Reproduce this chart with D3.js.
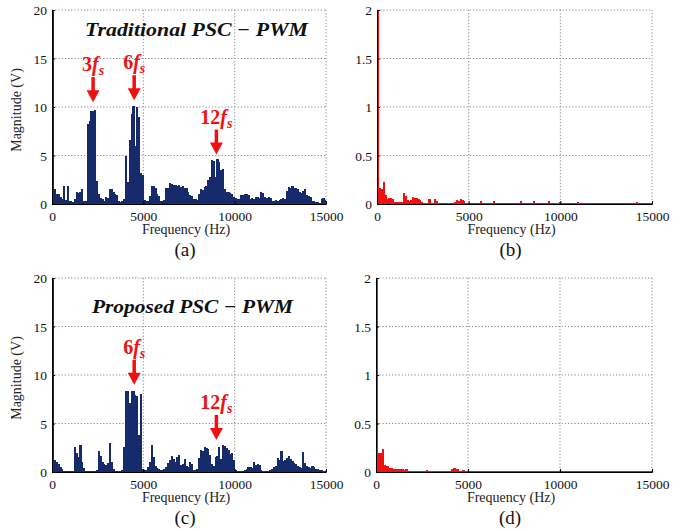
<!DOCTYPE html>
<html lang="en">
  <head>
    <meta charset="UTF-8" />
    <title>PSC-PWM spectra</title>
    <script src="https://d3js.org/d3.v7.min.js"></script>
    <style>
      body { margin: 0; background: #fff; }
      svg { display: block; }
      text { font-family: "Liberation Serif", "DejaVu Serif", serif; }
    </style>
  </head>
  <body>
    <svg id="chart" width="684" height="531"></svg>
    <script>
      // 100 Hz bins, 0 .. 15000 Hz
      const binWidth = 100;
      const xTicks = [0, 5000, 10000, 15000];
      const vTicks = [0, 5, 10, 15, 20];
      const aTicks = [0, 0.5, 1, 1.5, 2];

      // (a) line voltage, traditional PSC-PWM
      const voltTrad = [
        20, 1.5, 1.0, 1.0, 0.7, 0.5, 1.9, 0.4, 1.9, 0.3,
        0.35, 0.2, 0.5, 1.2, 1.1, 1.2, 1.5, 0.3, 0.3, 8.2,
        8.6, 9.6, 9.6, 9.7, 2.4, 1.0, 0.6, 0.5, 0.3, 0.7,
        0.6, 1.5, 1.5, 1.2, 1.0, 0.9, 0.3, 0.2, 0.3, 0.5,
        5.0, 2.3, 6.6, 9.3, 10.1, 6.0, 10.0, 9.0, 3.2, 3.0,
        0.4, 0.3, 0.3, 0.8, 1.9, 1.9, 1.7, 1.0, 0.8, 0.3,
        0.3, 0.4, 1.7, 1.6, 2.2, 2.1, 2.0, 2.0, 1.9, 2.0,
        1.8, 1.9, 1.7, 1.6, 1.2, 0.9, 0.8, 0.5, 0.5, 0.4,
        1.0, 1.5, 1.4, 1.8, 1.9, 2.5, 2.8, 4.5, 4.4, 2.8,
        4.6, 4.3, 3.5, 3.6, 1.5, 1.2, 1.2, 1.1, 1.0, 0.7,
        0.6, 0.5, 0.5, 0.9, 0.9, 1.0, 1.0, 0.9, 0.5, 0.6,
        0.5, 0.7, 0.7, 0.6, 1.2, 1.1, 0.7, 0.6, 0.7, 0.6,
        0.3, 0.3, 0.4, 0.3, 0.4, 0.5, 0.6, 0.5, 1.3, 1.8,
        1.7, 1.9, 1.6, 1.7, 1.5, 1.2, 1.1, 1.3, 1.5, 0.9,
        0.8, 0.7, 0.3, 0.3, 0.2, 0.2, 0.1, 0.5, 0.6, 0.4
      ];

      // (b) current, traditional
      const currTrad = [
        2.0, 0.16, 0.15, 0.23, 0.09, 0.05, 0.06, 0.06, 0.05, 0.02,
        0.02, 0.02, 0.02, 0.02, 0.11, 0.08, 0.04, 0.03, 0.04, 0.07,
        0.06, 0.06, 0.05, 0.04, 0.02, 0.01, 0.01, 0.01, 0.05, 0.01,
        0.01, 0.05, 0.03, 0.01, 0.01, 0.01, 0.01, 0.01, 0.01, 0.01,
        0.01, 0.01, 0.02, 0.04, 0.03, 0.05, 0.04, 0.03, 0.01, 0.01,
        0.01, 0.01, 0.01, 0.01, 0.01, 0.01, 0.03, 0.01, 0.01, 0.01,
        0.01, 0.01, 0.01, 0.03, 0.01, 0.01, 0.01, 0.01, 0.01, 0.01,
        0.01, 0.01, 0.01, 0.01, 0.01, 0.01, 0.01, 0.01, 0.03, 0.01,
        0.01, 0.01, 0.01, 0.01, 0.01, 0.03, 0.01, 0.01, 0.01, 0.01,
        0.01, 0.01, 0.01, 0.03, 0.01, 0.01, 0.01, 0.01, 0.01, 0.02,
        0.01, 0.01, 0.01, 0.01, 0.01, 0.01, 0.01, 0.01, 0.01, 0.02,
        0.01, 0.01, 0.01, 0.01, 0.01, 0.01, 0.01, 0.01, 0.01, 0.01,
        0.01, 0.01, 0.01, 0.01, 0.01, 0.015, 0.01, 0.01, 0.01, 0.01,
        0.01, 0.01, 0.01, 0.01, 0.01, 0.01, 0.01, 0.01, 0.01, 0.01,
        0.01, 0.02, 0.015, 0.01, 0.01, 0.01, 0.01, 0.01, 0.01, 0.01
      ];

      // (c) line voltage, proposed PSC-PWM
      const voltProp = [
        20, 1.2, 1.0, 0.8, 0.5, 0.3, 0.1, 0.1, 0.1, 0.1,
        0.1, 0.1, 2.6, 2.0, 1.5, 2.8, 1.0, 0.4, 0.1, 0.1,
        0.1, 0.1, 0.1, 0.1, 0.2, 2.2, 1.6, 1.0, 0.8, 0.7,
        0.9, 3.0, 1.0, 0.3, 0.1, 0.1, 0.1, 0.1, 0.2, 2.6,
        8.4, 8.4, 7.1, 8.4, 8.3, 7.9, 7.8, 3.8, 8.0, 0.3,
        0.2, 0.2, 0.5, 1.0, 2.8, 1.5, 0.6, 0.4, 0.3, 0.2,
        0.2, 0.3, 0.5, 0.9, 1.2, 1.7, 1.3, 1.0, 1.5, 1.8,
        0.7, 0.8, 1.3, 0.6, 0.5, 1.0, 0.8, 0.2, 0.2, 0.3,
        1.4, 2.3, 2.2, 2.6, 2.5, 2.4, 1.8, 0.8, 0.6, 1.5,
        1.6, 2.6, 1.3, 2.8, 2.7, 2.5, 2.3, 1.9, 2.0, 1.2,
        0.2, 0.1, 0.1, 0.1, 0.1, 0.2, 0.3, 0.5, 0.5, 0.4,
        1.0, 0.7, 0.8, 0.7, 0.2, 0.1, 0.1, 0.1, 0.1, 0.2,
        0.3, 0.5, 0.6, 1.4, 1.2, 2.2, 1.1, 1.2, 1.4, 1.6,
        1.3, 1.1, 0.9, 0.8, 0.6, 0.5, 0.4, 2.1, 0.9, 0.6,
        0.5, 0.4, 0.6, 0.5, 0.3, 0.3, 0.2, 0.2, 0.1, 0.1
      ];

      // (d) current, proposed
      const currProp = [
        2.0, 0.2, 0.2, 0.24, 0.07, 0.06, 0.06, 0.04, 0.04, 0.03,
        0.03, 0.03, 0.03, 0.03, 0.03, 0.02, 0.03, 0.01, 0.01, 0.01,
        0.01, 0.01, 0.01, 0.01, 0.01, 0.01, 0.01, 0.02, 0.01, 0.01,
        0.008, 0.008, 0.008, 0.008, 0.008, 0.008, 0.008, 0.008, 0.008, 0.008,
        0.01, 0.03, 0.04, 0.035, 0.03, 0.01, 0.01, 0.02, 0.01, 0.01,
        0.008, 0.008, 0.008, 0.008, 0.008, 0.015, 0.008, 0.008, 0.008, 0.008,
        0.008, 0.008, 0.008, 0.008, 0.008, 0.008, 0.008, 0.008, 0.008, 0.008,
        0.008, 0.008, 0.008, 0.008, 0.008, 0.008, 0.008, 0.008, 0.008, 0.008,
        0.008, 0.008, 0.012, 0.008, 0.008, 0.008, 0.012, 0.008, 0.008, 0.008,
        0.008, 0.008, 0.008, 0.008, 0.008, 0.008, 0.008, 0.008, 0.008, 0.008,
        0.008, 0.008, 0.008, 0.008, 0.008, 0.008, 0.008, 0.008, 0.008, 0.008,
        0.008, 0.008, 0.008, 0.008, 0.008, 0.008, 0.008, 0.008, 0.008, 0.008,
        0.008, 0.008, 0.008, 0.008, 0.008, 0.008, 0.008, 0.008, 0.008, 0.008,
        0.008, 0.008, 0.008, 0.008, 0.008, 0.008, 0.008, 0.008, 0.008, 0.008,
        0.008, 0.008, 0.008, 0.008, 0.008, 0.008, 0.008, 0.008, 0.008, 0.008
      ];

      // harmonic markers: [number, frequency (Hz), arrow tip value]
      const marksTrad = [["3", 2250, 10.5], ["6", 4500, 10.7], ["12", 9000, 5.1]];
      const marksProp = [["6", 4500, 9.0], ["12", 9000, 3.3]];

      const navy = "#152b6c";
      const red = "#f01010";

      const svg = d3.select("#chart");
      svg.append("rect").attr("width", 684).attr("height", 531).attr("fill", "#fff");

      function drawPanel(p) {
        const x = d3.scaleLinear().domain([0, 15000]).range([p.x0, p.x1]);
        const y = d3.scaleLinear().domain([0, p.yMax]).range([p.y1, p.y0]);
        const g = svg.append("g");

        // dotted grid
        g.selectAll(".gy")
          .data(p.yTicks.slice(1))
          .join("line")
          .attr("x1", p.x0).attr("x2", p.x1)
          .attr("y1", (d) => y(d)).attr("y2", (d) => y(d))
          .attr("stroke", "#8a8a8a").attr("stroke-dasharray", "1.2,2");
        g.selectAll(".gx")
          .data(xTicks.slice(1))
          .join("line")
          .attr("x1", (d) => x(d)).attr("x2", (d) => x(d))
          .attr("y1", p.y0).attr("y2", p.y1)
          .attr("stroke", "#8a8a8a").attr("stroke-dasharray", "1.2,2");

        // bars
        const w = x(binWidth) - x(0);
        g.selectAll(".bar")
          .data(p.data)
          .join("rect")
          .attr("x", (d, i) => x(i * binWidth))
          .attr("width", w + 0.4)
          .attr("y", (d) => y(Math.min(d, p.yMax)))
          .attr("height", (d) => y(0) - y(Math.min(d, p.yMax)))
          .attr("shape-rendering", "crispEdges")
          .attr("fill", p.color);

        // axes
        const ax = g.append("g")
          .attr("transform", `translate(0,${p.y1})`)
          .call(d3.axisBottom(x).tickValues(xTicks).tickSize(-3).tickPadding(7).tickFormat(d3.format("d")));
        const ay = g.append("g")
          .attr("transform", `translate(${p.x0},0)`)
          .call(d3.axisLeft(y).tickValues(p.yTicks).tickSize(-3).tickPadding(5).tickFormat(p.fmt));
        [ax, ay].forEach((a) => {
          a.attr("font-family", null);
          a.select(".domain").attr("stroke", "#000");
          a.selectAll("text").attr("font-size", 13.5).attr("fill", "#111");
        });
        ay.selectAll("text").attr("dy", "0.35em");

        g.append("text")
          .attr("x", (p.x0 + p.x1) / 2 - 3)
          .attr("y", p.y1 + 30)
          .attr("text-anchor", "middle")
          .attr("font-size", 14)
          .attr("fill", "#222")
          .text("Frequency (Hz)");

        const yl = g.append("text")
          .attr("transform", `translate(${p.ylx},${(p.y0 + p.y1) / 2 + 3}) rotate(-90)`)
          .attr("text-anchor", "middle")
          .attr("font-size", 14)
          .attr("fill", "#222")
          .text(p.ylabel);
        if (p.clip) yl.attr("clip-path", "url(#rightClip)");

        g.append("text")
          .attr("x", (p.x0 + p.x1) / 2 - 4)
          .attr("y", p.y1 + 52)
          .attr("text-anchor", "middle")
          .attr("font-size", 19)
          .attr("fill", "#111")
          .text(p.caption);

        return { x, y, g };
      }

      function drawTitle(g, tx, ty, len, label) {
        g.append("text")
          .attr("x", tx).attr("y", ty)
          .attr("font-family", "DejaVu Serif")
          .attr("font-weight", "bold")
          .attr("font-style", "italic")
          .attr("font-size", 19)
          .attr("textLength", len)
          .attr("lengthAdjust", "spacingAndGlyphs")
          .attr("fill", "#111")
          .text(label);
      }

      function drawMarks(panel, marks) {
        const { x, y, g } = panel;
        marks.forEach(([n, f, v]) => {
          const cx = x(f), tip = y(v);
          g.append("rect")
            .attr("x", cx - 1.75).attr("y", tip - 25)
            .attr("width", 3.5).attr("height", 15)
            .attr("fill", red);
          g.append("path")
            .attr("d", `M${cx - 6.5},${tip - 12}L${cx + 6.5},${tip - 12}L${cx},${tip}Z`)
            .attr("fill", red);
          const t = g.append("text")
            .attr("x", cx).attr("y", tip - 31)
            .attr("text-anchor", "middle")
            .attr("font-family", "DejaVu Serif")
            .attr("font-weight", "bold")
            .attr("font-size", 20)
            .attr("fill", red);
          t.append("tspan").text(n);
          t.append("tspan").attr("font-style", "italic").text("f");
          t.append("tspan").attr("font-style", "italic").attr("font-size", 14).attr("dy", 4).text("s");
        });
      }

      svg.append("defs").append("clipPath").attr("id", "rightClip")
        .append("rect").attr("x", 340).attr("y", 0).attr("width", 344).attr("height", 531);

      const pa = drawPanel({ x0: 52, x1: 326, y0: 10, y1: 204, yMax: 20, yTicks: vTicks,
        fmt: d3.format("d"), data: voltTrad, color: navy, ylabel: "Magnitude (V)", ylx: 21, caption: "(a)" });
      const pb = drawPanel({ x0: 377, x1: 652, y0: 10, y1: 204, yMax: 2, yTicks: aTicks,
        fmt: (d) => String(d), data: currTrad, color: red, ylabel: "Magnitude (A)", ylx: 345, clip: true, caption: "(b)" });
      const pc = drawPanel({ x0: 52, x1: 326, y0: 278, y1: 472, yMax: 20, yTicks: vTicks,
        fmt: d3.format("d"), data: voltProp, color: navy, ylabel: "Magnitude (V)", ylx: 21, caption: "(c)" });
      const pd = drawPanel({ x0: 376, x1: 652, y0: 278, y1: 472, yMax: 2, yTicks: aTicks,
        fmt: (d) => String(d), data: currProp, color: red, ylabel: "Magnitude (A)", ylx: 345, clip: true, caption: "(d)" });

      drawTitle(pa.g, 85, 36, 223, "Traditional PSC \u2212 PWM");
      drawTitle(pc.g, 92, 313, 201, "Proposed PSC \u2212 PWM");

      drawMarks(pa, marksTrad);
      drawMarks(pc, marksProp);
    </script>
  </body>
</html>
